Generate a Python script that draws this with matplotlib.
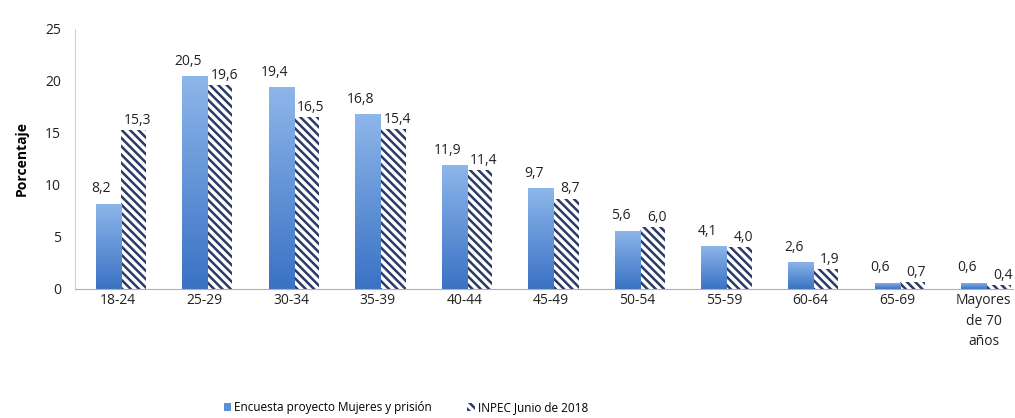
import numpy as np
import matplotlib.pyplot as plt

categorias = ["18-24", "25-29", "30-34", "35-39", "40-44", "45-49", "50-54",
              "55-59", "60-64", "65-69", "Mayores\nde 70\naños"]
encuesta = [8.2, 20.5, 19.4, 16.8, 11.9, 9.7, 5.6, 4.1, 2.6, 0.6, 0.6]
inpec = [15.3, 19.6, 16.5, 15.4, 11.4, 8.7, 6.0, 4.0, 1.9, 0.7, 0.4]
serie_names = ["Encuesta proyecto Mujeres y prisión", "INPEC Junio de 2018"]

plt.rcParams['font.family'] = ['Open Sans', 'DejaVu Sans']
plt.rcParams['hatch.linewidth'] = 1.8
plt.rcParams['hatch.color'] = '#2b3a67'

fig = plt.figure(figsize=(10.15, 4.18), dpi=100)
ax = fig.add_axes([75/1015, (418-289)/418, (1013-75)/1015, 260/418])

x = np.arange(len(categorias))
w = 0.29
b1 = ax.bar(x - w/2 + 0.03, encuesta, w, color='#5b8fd6', label=serie_names[0], zorder=2)
b2 = ax.bar(x + w/2 + 0.03, inpec, w, color='white', edgecolor='#2b3a67', linewidth=0,
            hatch='\\\\\\\\', label=serie_names[1], zorder=2)

# gradient fill for the blue bars
grad = np.linspace(0, 1, 100).reshape(-1, 1)
cmap = plt.matplotlib.colors.LinearSegmentedColormap.from_list('g', ['#8db6ea', '#3a72c4'])
for r in b1:
    bx, by = r.get_x(), r.get_y()
    bw, bh = r.get_width(), r.get_height()
    im = ax.imshow(grad, extent=[bx, bx + bw, by, by + bh], aspect='auto',
                   cmap=cmap, origin='upper', zorder=2.5)
    im.set_clip_path(r)

for r, v in zip(b1, encuesta):
    ax.text(r.get_x() + r.get_width()/2 - 0.08, v + 0.7, f"{v:.1f}".replace('.', ','),
            ha='center', va='bottom', fontsize=10, color='#222222')
for r, v in zip(b2, inpec):
    ax.text(r.get_x() + r.get_width()/2 + 0.05, v + 0.2, f"{v:.1f}".replace('.', ','),
            ha='center', va='bottom', fontsize=10, color='#222222')

ax.set_xlim(-0.5, 10.34)
ax.set_ylim(0, 25)
ax.set_yticks([0, 5, 10, 15, 20, 25])
ax.set_xticks(x)
ax.set_xticklabels(categorias, fontsize=10, color='#222222', linespacing=1.5)
ax.tick_params(axis='y', labelsize=10, colors='#222222', length=0, pad=10)
ax.tick_params(axis='x', length=0, pad=3)
ax.set_ylabel("Porcentaje", fontsize=10, fontweight='bold', labelpad=12)

for s in ['top', 'right']:
    ax.spines[s].set_visible(False)
ax.spines['left'].set_color('#d0d0d0')
ax.spines['bottom'].set_color('#b0b0b0')

fig.legend(handles=[b1, b2], labels=serie_names, loc='center', ncol=2,
           bbox_to_anchor=(0.40, 0.025), frameon=False, fontsize=8.5,
           handlelength=0.6, handleheight=0.6, handletextpad=0.3, columnspacing=3)

fig.savefig("out.png", dpi=100)
